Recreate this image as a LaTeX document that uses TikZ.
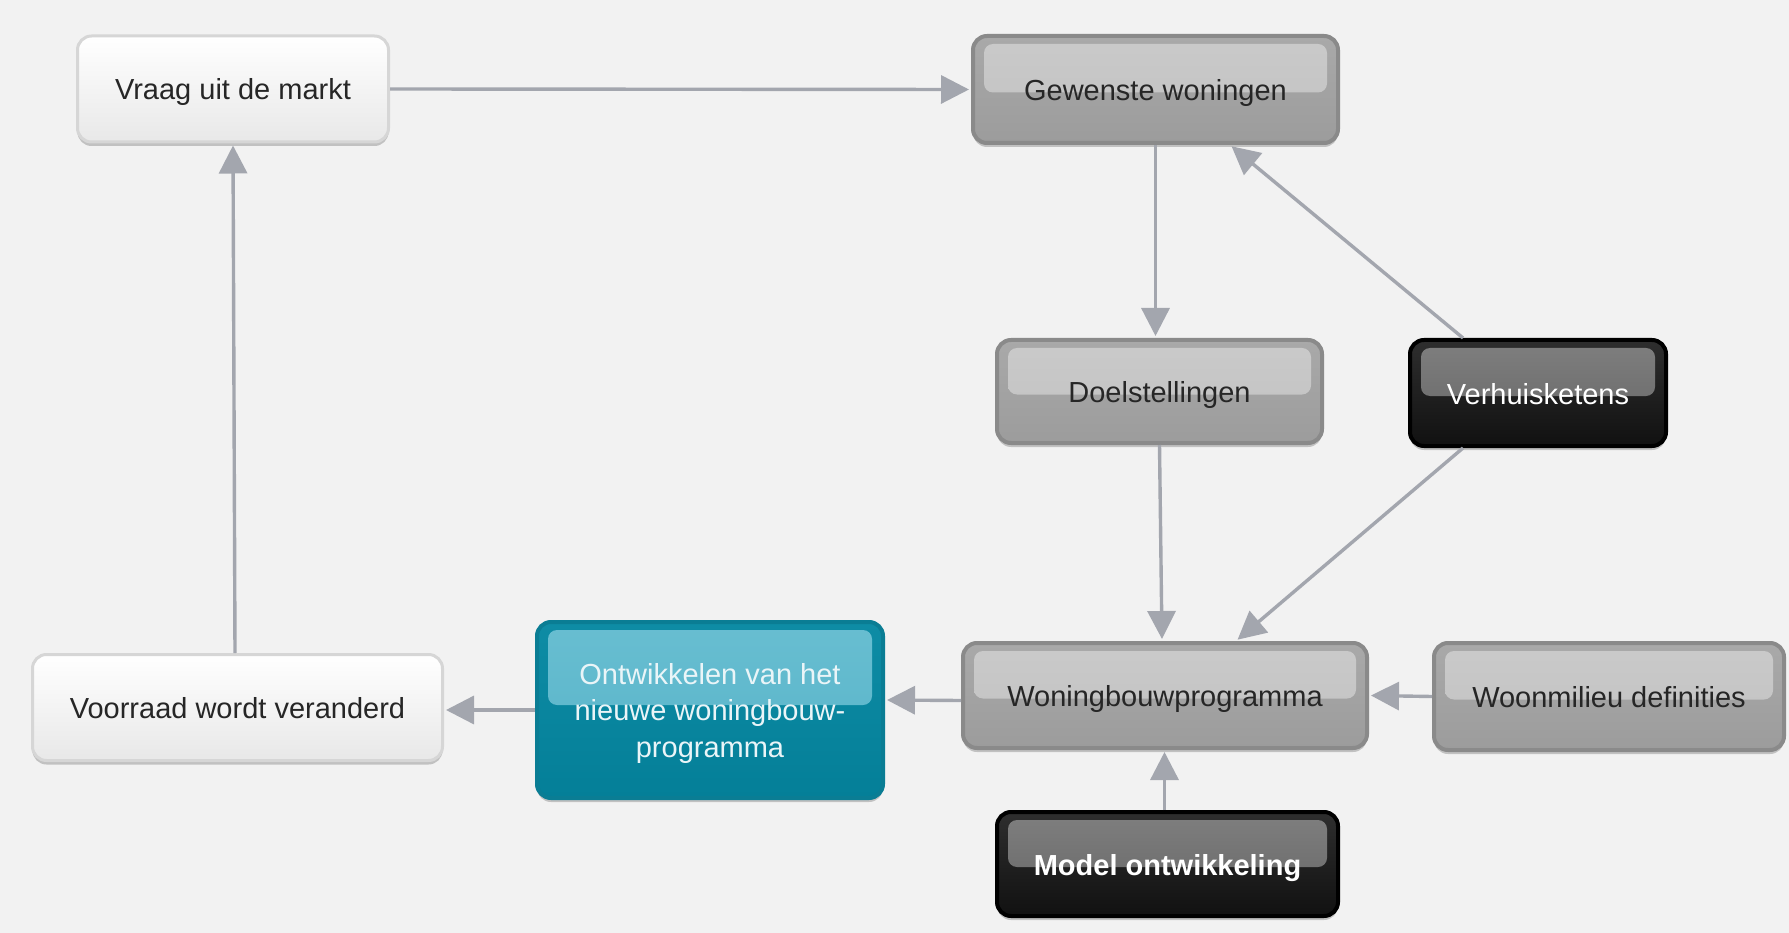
\documentclass[tikz,border=0pt]{standalone}
\usepackage{fontspec}
\setmainfont{Liberation Sans}
\usetikzlibrary{arrows.meta,shadows,calc}
\definecolor{bgc}{HTML}{F2F2F2}
\definecolor{edgec}{HTML}{A3A6AE}
\definecolor{whiteborder}{HTML}{D6D6D6}
\definecolor{whitebot}{HTML}{E8E8E8}
\definecolor{grayborder}{HTML}{8A8A8A}
\definecolor{graytop}{HTML}{A9A9A9}
\definecolor{graymid}{HTML}{BCBCBC}
\definecolor{graybot}{HTML}{9C9C9C}
\definecolor{grayglosstop}{HTML}{CACACA}
\definecolor{grayglossbot}{HTML}{C1C1C1}
\definecolor{graytext}{HTML}{262626}
\definecolor{blacktop}{HTML}{2E2E2E}
\definecolor{blackmid}{HTML}{1E1E1E}
\definecolor{blackbot}{HTML}{111111}
\definecolor{blackglosstop}{HTML}{7F7F7F}
\definecolor{blackglossbot}{HTML}{646464}
\definecolor{tealborder}{HTML}{0A7D94}
\definecolor{tealtop}{HTML}{0E8CA5}
\definecolor{tealmid}{HTML}{0795B1}
\definecolor{tealbot}{HTML}{047F98}
\definecolor{tealglosstop}{HTML}{68BED1}
\definecolor{tealglossbot}{HTML}{56B3C8}
\definecolor{tealtext}{HTML}{EAF5F8}
\begin{document}
\begin{tikzpicture}[x=1pt,y=1pt,
  base/.style={rounded corners=14pt, line width=4pt, align=center,
    font=\fontsize{29}{36.5}\selectfont, inner sep=0pt,
    drop shadow={shadow xshift=0pt,shadow yshift=-4pt,opacity=0.2,fill=black}},
  oneline/.style={text height=22pt, text depth=0pt},
  glossy/.style n args={3}{path picture={
    \path[top color=#1, bottom color=#2, rounded corners=9pt]
      ($(path picture bounding box.north west)+(11,-8)$) rectangle
      ($(path picture bounding box.east)+(-11,#3)$);}},
  whitebox/.style={base, oneline, line width=3pt, draw=whiteborder, top color=white, bottom color=whitebot, text=graytext},
  graybox/.style={base, oneline, draw=grayborder, top color=graytop, middle color=graymid, bottom color=graybot, text=graytext,
    glossy={grayglosstop}{grayglossbot}{-3}},
  blackbox/.style={base, oneline, draw=black, top color=blacktop, middle color=blackmid, bottom color=blackbot, text=white,
    glossy={blackglosstop}{blackglossbot}{-3}},
  tealbox/.style={base, draw=tealborder, top color=tealtop, middle color=tealmid, bottom color=tealbot, text=tealtext,
    glossy={tealglosstop}{tealglossbot}{5}},
  conn/.style={draw=edgec, line width=3.4pt, -{Triangle[length=28pt,width=28pt]}, shorten >=2pt}
]
\fill[bgc] (0,0) rectangle (1789,-933);
\useasboundingbox (0,0) rectangle (1789,-933);

\node[whitebox, minimum width=311pt, minimum height=106pt] (vraag) at (233,-89) {Vraag uit de markt};
\node[graybox, minimum width=365pt, minimum height=107pt] (gew) at (1155.5,-89.5) {Gewenste woningen};
\node[graybox, minimum width=325pt, minimum height=103pt] (doel) at (1159.5,-391.5) {Doelstellingen};
\node[blackbox, minimum width=256pt, minimum height=106pt] (verh) at (1538,-393) {Verhuisketens};
\node[whitebox, minimum width=410pt, minimum height=106pt] (voor) at (237.5,-707.5) {Voorraad wordt veranderd};
\node[tealbox, minimum width=346pt, minimum height=176pt] (ontw) at (710,-710) {\rule{0pt}{28pt}Ontwikkelen van het\\nieuwe woningbouw-\\programma};
\node[graybox, minimum width=404pt, minimum height=105pt] (wbp) at (1165,-695.5) {Woningbouwprogramma};
\node[graybox, minimum width=350pt, minimum height=107pt] (woon) at (1609,-696.5) {Woonmilieu definities};
\node[blackbox, minimum width=341pt, minimum height=104pt] (model) at (1167.5,-864) {\bfseries Model ontwikkeling};

\draw[conn] (vraag.east) -- (gew.west);
\draw[conn] (gew.south) -- (gew.south |- doel.north);
\draw[conn] ([xshift=55pt]verh.north west) -- ([xshift=259pt]gew.south west);
\draw[conn] (doel.south) -- ([xshift=-3pt]wbp.north);
\draw[conn] ([xshift=55pt]verh.south west) -- ([xshift=275pt]wbp.north west);
\draw[conn] (woon.west) -- (wbp.east);
\draw[conn] ([xshift=-3pt]model.north) -- ([xshift=-3pt]model.north |- wbp.south);
\draw[conn] ([yshift=-5pt]wbp.west) -- ([yshift=10pt]ontw.east);
\draw[conn] (ontw.west) -- (ontw.west -| voor.east);
\draw[conn] ([xshift=-2.5pt]voor.north) -- (vraag.south);
\end{tikzpicture}
\end{document}
